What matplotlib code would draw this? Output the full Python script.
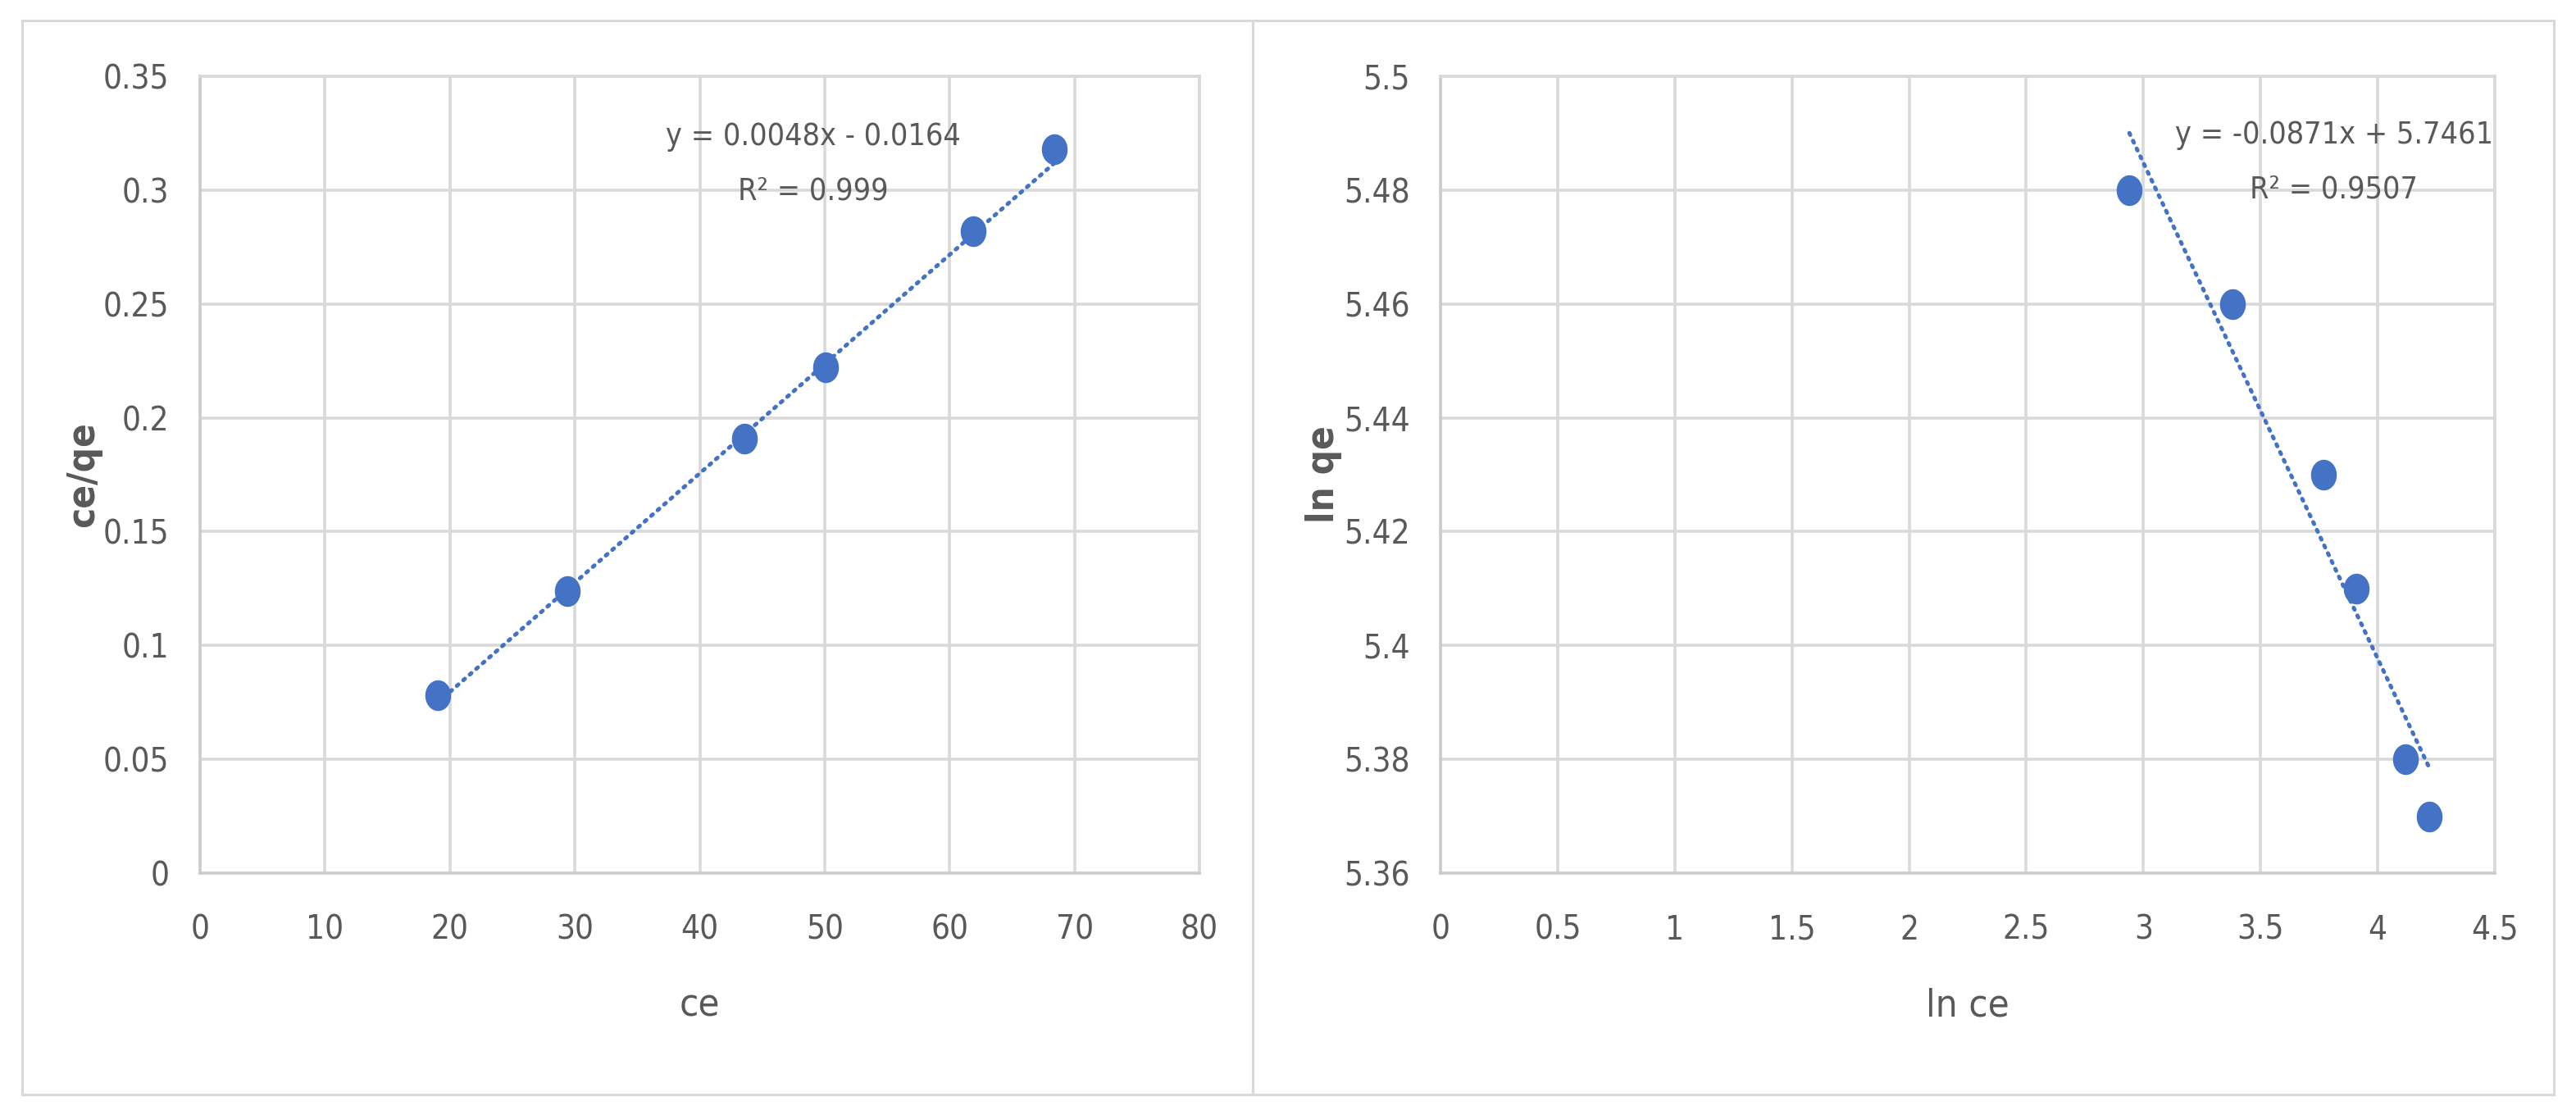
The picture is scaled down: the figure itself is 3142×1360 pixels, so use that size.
import numpy as np
import matplotlib
matplotlib.use("Agg")
import matplotlib.pyplot as plt
from matplotlib.patches import Rectangle
from matplotlib.path import Path
from matplotlib.markers import MarkerStyle
from matplotlib.ticker import FixedLocator, FuncFormatter
from matplotlib import font_manager

# ---------------- data ----------------
ce = [19.0, 29.4, 43.6, 50.1, 61.9, 68.4]
ce_qe = [0.078, 0.124, 0.191, 0.222, 0.282, 0.318]
fit1 = [0.0048, -0.0164]          # slope, intercept (Langmuir)
eq1_text = ["y = 0.0048x - 0.0164", "R\u00b2 = 0.999"]

ln_ce = [2.94, 3.38, 3.77, 3.91, 4.12, 4.22]
ln_qe = [5.48, 5.46, 5.43, 5.41, 5.38, 5.37]
fit2 = [-0.0871, 5.7461]          # slope, intercept (Freundlich)
eq2_text = ["y = -0.0871x + 5.7461", "R\u00b2 = 0.9507"]

x1_ticks = [0, 10, 20, 30, 40, 50, 60, 70, 80]
y1_ticks = [0, 0.05, 0.1, 0.15, 0.2, 0.25, 0.3, 0.35]
x2_ticks = [0, 0.5, 1, 1.5, 2, 2.5, 3, 3.5, 4, 4.5]
y2_ticks = [5.36, 5.38, 5.4, 5.42, 5.44, 5.46, 5.48, 5.5]

# ---------------- style ----------------
available = {f.name for f in font_manager.fontManager.ttflist}
FONT = [f for f in ["Liberation Sans Narrow", "DejaVu Sans Condensed",
                    "Liberation Sans", "DejaVu Sans"] if f in available]
condensed = [f for f in font_manager.fontManager.ttflist
             if f.name == "DejaVu Sans" and "ondensed" in f.fname]
if not FONT[0].startswith(("Liberation Sans Narrow", "DejaVu Sans Condensed")) and condensed:
    plt.rcParams["font.stretch"] = "condensed"
    FONT = ["DejaVu Sans"]
plt.rcParams["font.family"] = FONT
TXT = "#595959"
GRID = "#D9D9D9"
BLUE = "#4472C4"

W, H = 3142, 1360
fig = plt.figure(figsize=(W / 100, H / 100), dpi=100)
fig.patch.set_facecolor("white")

def fx(px):
    return px / W

def fy(py):
    return 1 - py / H

# panel borders
for x0, x1 in [(27, 1528), (1528, 3115)]:
    fig.add_artist(Rectangle((fx(x0), fy(1335)), fx(x1) - fx(x0), fy(25) - fy(1335),
                             transform=fig.transFigure, fill=False,
                             edgecolor=GRID, linewidth=2.2))

# ellipse marker (reference markers are slightly taller than wide)
t = np.linspace(0, 2 * np.pi, 60)
ell = Path(np.column_stack([0.42 * np.cos(t), 0.5 * np.sin(t)]), closed=True)
ell_marker = MarkerStyle(ell)

def fmt(v, pos):
    return f"{round(v, 4):g}"

def setup(ax, xt, yt, xlab, ylab, ylab_x):
    ax.set_xlim(xt[0], xt[-1])
    ax.set_ylim(yt[0], yt[-1])
    ax.xaxis.set_major_locator(FixedLocator(xt))
    ax.yaxis.set_major_locator(FixedLocator(yt))
    ax.xaxis.set_major_formatter(FuncFormatter(fmt))
    ax.yaxis.set_major_formatter(FuncFormatter(fmt))
    ax.grid(True, color=GRID, linewidth=2.6, zorder=0)
    ax.set_axisbelow(True)
    for s in ax.spines.values():
        s.set_color(GRID)
        s.set_linewidth(2.6)
    ax.spines["left"].set_color("#CCCCCC")
    ax.spines["bottom"].set_color("#CCCCCC")
    ax.tick_params(axis="both", length=0, labelsize=29, labelcolor=TXT)
    ax.tick_params(axis="x", pad=36)
    ax.tick_params(axis="y", pad=27)
    ax.set_xlabel(xlab, fontsize=34, color=TXT)
    ax.xaxis.set_label_coords(0.5, -0.167)
    ax.xaxis.label.set_va("center")
    ax.set_ylabel(ylab, fontsize=34, color=TXT, fontweight="bold")
    ax.yaxis.set_label_coords(ylab_x, 0.5)
    ax.yaxis.label.set_va("center")

def draw(ax, x, y, fit, eq, eq_pos):
    ax.plot(x, y, linestyle="none", marker=ell_marker, markersize=27,
            color=BLUE, markeredgewidth=0, zorder=3)
    xs = np.array([min(x), max(x)])
    ax.plot(xs, fit[0] * xs + fit[1], linestyle=(0, (0.5, 1.6)), linewidth=3.6,
            color=BLUE, dash_capstyle="round", zorder=2)
    ax.text(eq_pos[0], eq_pos[1], eq[0], transform=ax.transAxes, ha="center",
            va="center", fontsize=27, color=TXT)
    ax.text(eq_pos[0], eq_pos[2], eq[1], transform=ax.transAxes, ha="center",
            va="center", fontsize=27, color=TXT)

# left axes: x 244..1463, y 93..1065
ax1 = fig.add_axes([fx(244), fy(1065), fx(1463) - fx(244), fy(93) - fy(1065)])
setup(ax1, x1_ticks, y1_ticks, "ce", "ce/qe", -0.117)
draw(ax1, ce, ce_qe, fit1, eq1_text,
     ((992 - 244) / 1219, (1065 - 167) / 972, (1065 - 233) / 972))

# right axes: x 1757..3043
ax2 = fig.add_axes([fx(1757), fy(1065), fx(3043) - fx(1757), fy(93) - fy(1065)])
setup(ax2, x2_ticks, y2_ticks, "ln ce", "ln qe", -0.111)
draw(ax2, ln_ce, ln_qe, fit2, eq2_text,
     ((2847 - 1757) / 1286, (1065 - 165) / 972, (1065 - 232) / 972))

fig.savefig("out.png", dpi=100, facecolor="white")
